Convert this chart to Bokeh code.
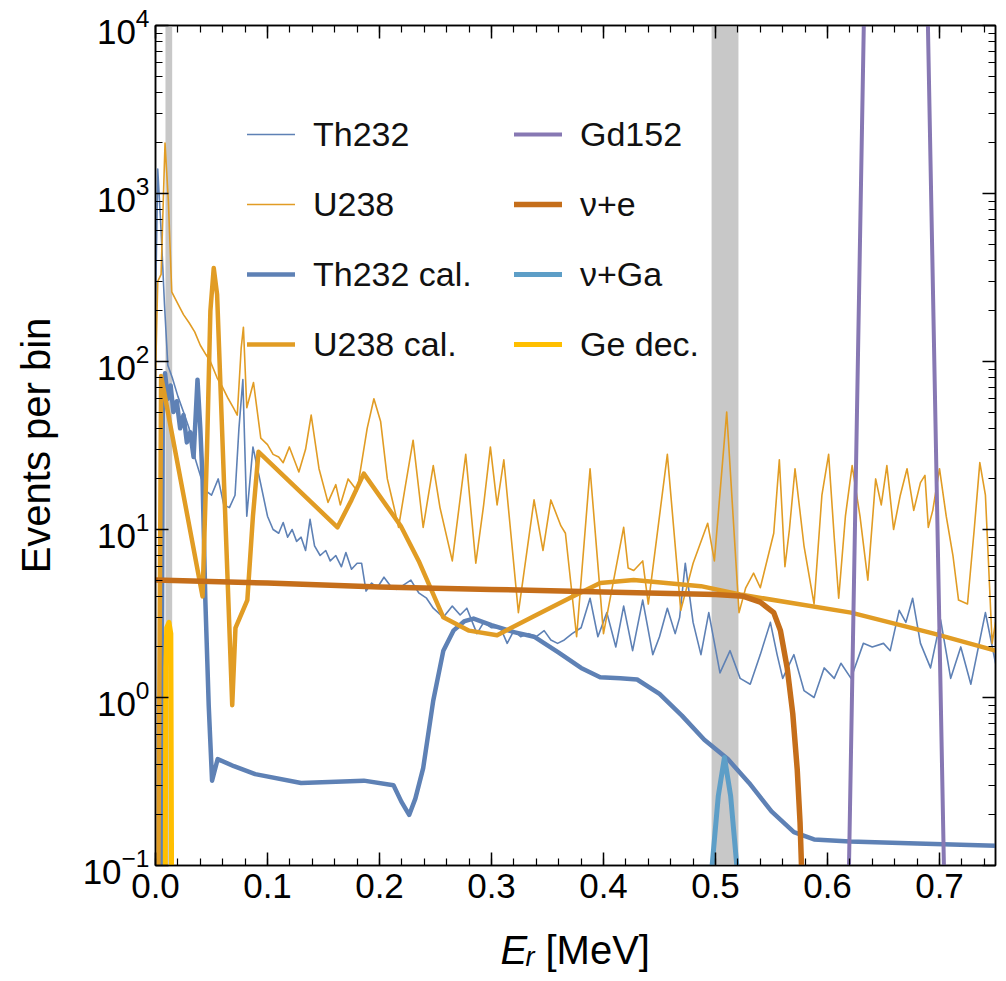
import math
from bokeh.plotting import figure
from bokeh.layouts import column
from bokeh.models import (Range1d, LinearAxis, LogAxis, SingleIntervalTicker, LogTicker,
                          PrintfTickFormatter, CustomJSTickFormatter, CustomLabelingPolicy,
                          LogTickFormatter, BoxAnnotation, Legend, LegendItem, Label)
from bokeh.embed import file_html
from bokeh.resources import INLINE

# ---------------- data ----------------
th_E = [0.000, 0.002, 0.005, 0.008, 0.011, 0.015, 0.020, 0.025, 0.030, 0.035,
        0.040, 0.045, 0.050, 0.056, 0.061, 0.066, 0.071, 0.0745, 0.078, 0.0815,
        0.087, 0.093, 0.100, 0.105, 0.110, 0.114, 0.118, 0.122, 0.126, 0.130,
        0.134, 0.138, 0.142, 0.147, 0.152, 0.156, 0.161, 0.166, 0.170, 0.175,
        0.180, 0.184, 0.188, 0.193, 0.198, 0.204, 0.210, 0.215, 0.220, 0.228,
        0.235, 0.242, 0.248, 0.257, 0.265, 0.272, 0.278, 0.283, 0.287, 0.293,
        0.300, 0.308, 0.314, 0.320, 0.326, 0.333, 0.340, 0.347, 0.353, 0.359,
        0.365, 0.372, 0.380, 0.388, 0.395, 0.403, 0.411, 0.418, 0.426, 0.435,
        0.444, 0.450, 0.457, 0.464, 0.468, 0.473, 0.480, 0.487, 0.494, 0.504,
        0.513, 0.522, 0.531, 0.540, 0.549, 0.555, 0.560, 0.570, 0.579, 0.588,
        0.597, 0.606, 0.612, 0.621, 0.632, 0.640, 0.650, 0.656, 0.664, 0.670,
        0.676, 0.683, 0.692, 0.701, 0.710, 0.719, 0.728, 0.741, 0.750]
th_N = [200, 1400, 600, 220, 95, 80, 62, 50, 40, 27,
        21, 17, 16, 20, 14, 13.5, 16, 40, 78, 12,
        31, 20, 12, 10, 9.5, 11, 9, 10, 8.5, 9,
        7.5, 11.5, 8, 7, 7.5, 6.5, 7, 6, 7.3, 5.8,
        6.3, 6.3, 4.3, 4.8, 4.5, 5.2, 4.6, 4.4, 4.6, 5.0,
        4.2, 3.9, 3.4, 3.0, 3.5, 3.1, 3.4, 2.8, 2.4, 2.8,
        2.6, 2.6, 2.1, 2.5, 2.3, 2.4, 2.3, 2.5, 2.2, 2.1,
        2.2, 2.4, 2.6, 3.9, 2.3, 3.2, 2.0, 3.5, 1.9, 3.8,
        1.8, 2.3, 3.4, 2.4, 3.0, 6.3, 2.8, 1.8, 3.2, 1.4,
        1.9, 1.3, 1.2, 1.8, 2.8, 1.8, 1.3, 1.8, 1.1, 1.0,
        1.5, 1.3, 1.6, 1.3, 2.1, 2.0, 2.1, 1.9, 3.3, 2.8,
        3.9, 2.1, 1.5, 2.9, 1.3, 2.0, 1.2, 3.2, 1.6]

u_E = [0.000, 0.002, 0.005, 0.0085, 0.0115, 0.0145, 0.020, 0.025, 0.030, 0.035,
       0.040, 0.045, 0.049, 0.055, 0.060, 0.065, 0.0696, 0.073, 0.0765, 0.0785,
       0.0815, 0.0875, 0.094, 0.100, 0.105, 0.110, 0.114, 0.1195, 0.128, 0.134,
       0.139, 0.146, 0.154, 0.161, 0.165, 0.172, 0.180, 0.189, 0.195, 0.201,
       0.207, 0.2125, 0.217, 0.223, 0.230, 0.239, 0.248, 0.254, 0.265, 0.277,
       0.286, 0.293, 0.299, 0.305, 0.311, 0.324, 0.338, 0.346, 0.353, 0.362,
       0.366, 0.376, 0.388, 0.400, 0.418, 0.422, 0.427, 0.435, 0.440, 0.457,
       0.469, 0.480, 0.493, 0.499, 0.510, 0.521, 0.527, 0.534, 0.540, 0.552,
       0.557, 0.562, 0.566, 0.571, 0.579, 0.588, 0.595, 0.601, 0.606, 0.610,
       0.616, 0.622, 0.629, 0.636, 0.643, 0.648, 0.653, 0.659, 0.665, 0.671,
       0.677, 0.683, 0.687, 0.690, 0.694, 0.700, 0.706, 0.712, 0.717, 0.725,
       0.731, 0.736, 0.741, 0.747, 0.750]
u_N = [80, 300, 330, 2000, 900, 260, 220, 190, 170, 150,
       125, 110, 100, 80, 70, 60, 53, 48, 120, 160,
       53, 75, 35, 32, 28, 27, 25, 31, 22, 30,
       48, 23, 14.5, 18.5, 14, 20, 17, 40, 60, 44,
       20, 14, 10.3, 18, 34, 10.3, 24, 13.5, 6.5, 28,
       6.3, 14, 31, 14, 26, 3.2, 15, 7.5, 15, 10.5,
       9.5, 2.3, 23, 2.4, 10.3, 5.9, 5.7, 6.5, 3.6, 28,
       3.3, 6.3, 10.9, 6.5, 50, 3.2, 4.5, 5.5, 4.5, 9.5,
       26, 6, 10, 23, 8, 3.6, 16, 28, 9, 3.9,
       12, 24, 12, 5.0, 20, 14, 24, 10, 16, 23,
       13, 19, 21, 10.3, 13, 23, 12, 7, 3.8, 3.6,
       10, 25, 16, 2.1, 2.8]

thcal_E = [0.0050, 0.0065, 0.0085, 0.011, 0.0135, 0.016, 0.019, 0.022, 0.025, 0.028,
           0.031, 0.034, 0.0375, 0.040, 0.042, 0.0445, 0.0475, 0.0505, 0.0555, 0.070,
           0.089, 0.130, 0.186, 0.2125, 0.2195, 0.2265, 0.232, 0.239, 0.248, 0.257,
           0.266, 0.276, 0.284, 0.300, 0.320, 0.338, 0.360, 0.380, 0.397, 0.415,
           0.430, 0.450, 0.470, 0.490, 0.511, 0.530, 0.550, 0.570, 0.588, 0.620,
           0.680, 0.750]
thcal_N = [0.08, 50, 85, 60, 72, 50, 58, 40, 48, 33,
           38, 27, 78, 40, 20, 3.8, 0.9, 0.32, 0.43, 0.39,
           0.35, 0.31, 0.32, 0.30, 0.24, 0.20, 0.25, 0.38, 0.96, 1.9,
           2.5, 2.85, 2.95, 2.7, 2.45, 2.3, 1.85, 1.5, 1.32, 1.30,
           1.28, 1.05, 0.78, 0.56, 0.43, 0.31, 0.21, 0.158, 0.143, 0.139,
           0.135, 0.131]

ucal_E = [0.0025, 0.0050, 0.042, 0.046, 0.049, 0.052, 0.055, 0.0685, 0.0714, 0.082,
          0.087, 0.092, 0.1625, 0.175, 0.186, 0.219, 0.235, 0.257, 0.280, 0.305,
          0.340, 0.373, 0.397, 0.427, 0.487, 0.522, 0.621, 0.695, 0.750]
ucal_N = [0.08, 82, 4.0, 30, 200, 360, 250, 0.9, 2.6, 3.8,
          12, 29, 10.3, 15, 21.5, 10.5, 6.5, 3.0, 2.5, 2.35,
          3.1, 4.0, 4.8, 5.0, 4.6, 4.1, 3.2, 2.4, 1.9]

gd_E = [0.6184, 0.6332, 0.661, 0.6888, 0.7048]
gd_N = [0.05, 2e4, 1e8, 2e4, 0.05]

nue_E = [0.0, 0.1, 0.2, 0.3, 0.4, 0.5, 0.525, 0.540, 0.552, 0.558,
         0.564, 0.569, 0.573, 0.5755, 0.577]
nue_N = [5.0, 4.8, 4.55, 4.4, 4.25, 4.1, 4.0, 3.7, 3.2, 2.5,
         1.5, 0.8, 0.37, 0.18, 0.09]

nuga_E = [0.4955, 0.497, 0.5025, 0.508, 0.5135, 0.519, 0.5205]
nuga_N = [0.07, 0.1, 0.26, 0.44, 0.26, 0.1, 0.07]

ge_E = [0.0087, 0.0092, 0.0100, 0.0120, 0.0137, 0.0144]
ge_N = [0.07, 1.5, 2.6, 2.8, 2.4, 0.07]

bands = [(0.0089, 0.0149), (0.4965, 0.5205)]

# ---------------- styling ----------------
FONT = "Liberation Sans"
TH, U, GD, NUE, NUGA, GE = "#5E81B5", "#E19C24", "#8778B3", "#C56E1A", "#5D9EC7", "#FFBF00"

W, H_MAIN, H_TITLE = 1006, 920, 61
LEFT, RIGHT = 155, 11

p = figure(width=W, height=H_MAIN, x_range=Range1d(0, 0.75), y_range=Range1d(0.1, 1e4),
           y_axis_type="log", output_backend="svg", toolbar_location=None,
           min_border_left=LEFT, min_border_right=RIGHT, min_border_top=25, min_border_bottom=55)
p.xgrid.visible = False
p.ygrid.visible = False
p.outline_line_color = "black"
p.outline_line_width = 1.5
p.background_fill_color = "white"
p.border_fill_color = "white"

def style_axis(ax, show_labels):
    ax.axis_line_color = "black"
    ax.axis_line_width = 1.5
    ax.major_tick_line_color = "black"
    ax.minor_tick_line_color = "black"
    ax.major_tick_line_width = 1.5
    ax.minor_tick_line_width = 1.2
    ax.major_tick_in = 13
    ax.major_tick_out = 0
    ax.minor_tick_in = 7
    ax.minor_tick_out = 0
    if show_labels:
        ax.major_label_text_font = FONT
        ax.major_label_text_font_size = "35px"
        ax.major_label_text_color = "black"
    else:
        ax.formatter = CustomJSTickFormatter(code="return ''")
        ax.major_label_policy = CustomLabelingPolicy(code="return new Set()")
        ax.major_label_text_font_size = "4px"
        ax.major_label_standoff = 0

xax = p.xaxis[0]
xax.ticker = SingleIntervalTicker(interval=0.1, num_minor_ticks=5)
xax.formatter = PrintfTickFormatter(format="%.1f")
style_axis(xax, True)
xax.major_label_standoff = 8

yax = p.yaxis[0]
yax.ticker = LogTicker(num_minor_ticks=10)
yax.formatter = LogTickFormatter()
style_axis(yax, True)
yax.major_label_standoff = 6
yax.axis_label = "Events per bin"
yax.axis_label_text_font = FONT
yax.axis_label_text_font_style = "normal"
yax.axis_label_text_font_size = "40px"
yax.axis_label_text_color = "black"
yax.axis_label_standoff = 22

top = LinearAxis(ticker=SingleIntervalTicker(interval=0.1, num_minor_ticks=5))
style_axis(top, False)
p.add_layout(top, "above")
right = LogAxis(ticker=LogTicker(num_minor_ticks=10))
style_axis(right, False)
p.add_layout(right, "right")

for (l, r) in bands:
    p.add_layout(BoxAnnotation(left=l, right=r, fill_color="#C8C8C8", fill_alpha=1.0,
                               line_alpha=0, level="underlay"))

kw = dict(line_join="round", line_cap="round")
r_th = p.line(th_E, th_N, line_color=TH, line_width=1.6, **kw)
r_u = p.line(u_E, u_N, line_color=U, line_width=1.6, **kw)
r_thc = p.line(thcal_E, thcal_N, line_color=TH, line_width=4.5, **kw)
r_uc = p.line(ucal_E, ucal_N, line_color=U, line_width=4.5, **kw)
r_gd = p.line(gd_E, gd_N, line_color=GD, line_width=4, **kw)
r_nue = p.line(nue_E, nue_N, line_color=NUE, line_width=5.5, **kw)
r_nuga = p.line(nuga_E, nuga_N, line_color=NUGA, line_width=5, **kw)
r_ge = p.line(ge_E, ge_N, line_color=GE, line_width=5, **kw)

def make_legend(items, x):
    return Legend(items=items, location=(x, 500), orientation="vertical",
                  glyph_width=48, glyph_height=42, label_height=42, spacing=28,
                  label_standoff=18, padding=0, margin=0,
                  border_line_alpha=0, background_fill_alpha=0,
                  label_text_font=FONT, label_text_font_size="34px",
                  label_text_color="#111111")

leg1 = make_legend([LegendItem(label="Th232", renderers=[r_th]),
                    LegendItem(label="U238", renderers=[r_u]),
                    LegendItem(label="Th232 cal.", renderers=[r_thc]),
                    LegendItem(label="U238 cal.", renderers=[r_uc])], 92)
leg2 = make_legend([LegendItem(label="Gd152", renderers=[r_gd]),
                    LegendItem(label="\u03bd+e", renderers=[r_nue]),
                    LegendItem(label="\u03bd+Ga", renderers=[r_nuga]),
                    LegendItem(label="Ge dec.", renderers=[r_ge])], 359)
p.add_layout(leg1)
p.add_layout(leg2)

# x-axis title strip (italic E with subscript r); its frame spans the same columns as p
t = figure(width=W, height=H_TITLE, x_range=Range1d(LEFT, W - RIGHT), y_range=Range1d(0, H_TITLE),
           output_backend="svg", toolbar_location=None, x_axis_location=None,
           y_axis_location=None, min_border_left=LEFT, min_border_right=RIGHT,
           min_border_top=0, min_border_bottom=0)
t.xgrid.visible = False
t.ygrid.visible = False
t.outline_line_color = None
t.background_fill_color = "white"
t.border_fill_color = "white"
base_y = H_TITLE - 29
t.add_layout(Label(x=500, y=base_y, text="E", text_align="left", text_baseline="alphabetic",
                   text_font=FONT, text_font_style="italic", text_font_size="40px",
                   text_color="black"))
t.add_layout(Label(x=525, y=base_y - 7, text="r", text_align="left", text_baseline="alphabetic",
                   text_font=FONT, text_font_style="italic", text_font_size="27px",
                   text_color="black"))
t.add_layout(Label(x=545, y=base_y, text="[MeV]", text_align="left", text_baseline="alphabetic",
                   text_font=FONT, text_font_size="40px", text_color="black"))

layout = column(p, t, spacing=0)
open("out.html", "w").write(file_html(layout, INLINE))
